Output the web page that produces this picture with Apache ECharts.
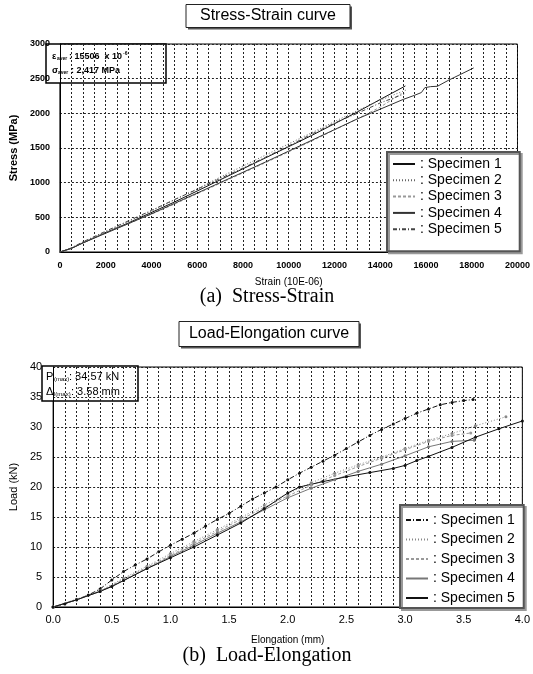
<!DOCTYPE html>
<html><head><meta charset="utf-8">
<script src="https://cdn.jsdelivr.net/npm/echarts@6/dist/echarts.min.js"></script>
<style>html,body{margin:0;padding:0;background:#fff}#c{width:533px;height:674px}</style>
</head><body><div id="c"></div><script>
// ---------- (a) Stress-Strain data: [strain (10E-06), stress (MPa)] ----------
const specimenNames = ['Specimen 1','Specimen 2','Specimen 3','Specimen 4','Specimen 5'];
const ssSpecimen1 = [[0,0],[500,55],[1000,130],[2000,280],[3000,420],[4000,570],[5000,720],[6000,880],[7000,1040],[8000,1200],[9000,1360],[10000,1520],[11000,1680],[12000,1850],[13000,2020],[14000,2200],[15100,2395]];
const ssSpecimen2 = [[0,0],[500,60],[1000,140],[2000,290],[3000,440],[4000,590],[5000,750],[6000,910],[7000,1080],[8000,1240],[9000,1400],[10000,1560],[11000,1720],[12000,1880],[13000,2040],[14000,2190],[15160,2340]];
const ssSpecimen3 = [[0,0],[500,50],[1000,135],[2000,275],[3000,410],[4000,545],[5000,690],[6000,840],[7000,990],[8000,1140],[9000,1290],[10000,1445],[11000,1600],[12000,1760],[13000,1920],[14000,2090],[14930,2285]];
const ssSpecimen4 = [[0,0],[500,50],[1000,130],[2000,270],[3000,410],[4000,550],[5000,700],[6000,850],[7000,1000],[8000,1150],[9000,1300],[10000,1455],[11000,1610],[12000,1765],[13000,1920],[14000,2060],[15000,2200],[15500,2260],[15800,2300],[15950,2370],[16200,2385],[16500,2390],[17000,2480],[17500,2560],[18085,2655]];
const ssSpecimen5 = [[0,0],[500,58],[1000,145],[2000,300],[3000,450],[4000,600],[5000,755],[6000,905],[7000,1060],[8000,1210],[9000,1370],[10000,1530],[11000,1700],[12000,1860],[13000,2000],[14000,2150],[15050,2280]];
const strainAxis = {min:0, max:20000, gridStep:500, labelStep:2000};
const stressAxis = {min:0, max:3000, gridStep:500};

// ---------- (b) Load-Elongation data: [elongation (mm), load (kN)] ----------
const leSpecimen1 = [[0,0],[0.1,0.5],[0.2,1.2],[0.3,2.0],[0.4,3.0],[0.5,4.5],[0.6,5.9],[0.7,7.0],[0.8,8.0],[0.9,9.2],[1.0,10.3],[1.1,11.3],[1.2,12.3],[1.3,13.5],[1.4,14.6],[1.5,15.6],[1.6,16.8],[1.7,18.0],[1.8,19.0],[1.9,20.0],[2.0,21.2],[2.1,22.3],[2.2,23.3],[2.3,24.3],[2.4,25.3],[2.5,26.4],[2.6,27.5],[2.7,28.6],[2.8,29.6],[2.9,30.5],[3.0,31.4],[3.1,32.3],[3.2,33.0],[3.3,33.7],[3.4,34.1],[3.5,34.4],[3.58,34.57]];
const leSpecimen2 = [[0,0],[0.2,1.3],[0.4,2.7],[0.6,4.8],[0.8,6.8],[1.0,8.9],[1.2,10.9],[1.4,12.9],[1.6,14.9],[1.8,17.0],[2.0,18.9],[2.2,20.7],[2.4,22.3],[2.6,23.7],[2.8,25.0],[3.0,26.4],[3.2,27.8],[3.4,28.9],[3.6,30.2],[3.86,31.7]];
const leSpecimen3 = [[0,0],[0.2,1.2],[0.4,2.6],[0.6,4.6],[0.8,6.6],[1.0,8.6],[1.2,10.6],[1.4,12.6],[1.6,14.6],[1.8,16.6],[2.0,18.5],[2.2,20.3],[2.4,21.9],[2.6,23.4],[2.8,24.8],[3.0,26.2],[3.2,27.6],[3.4,28.6],[3.56,29.0]];
const leSpecimen4 = [[0,0],[0.2,1.2],[0.4,2.6],[0.6,4.4],[0.8,6.4],[1.0,8.4],[1.2,10.3],[1.4,12.3],[1.6,14.2],[1.8,16.2],[2.0,18.2],[2.2,19.8],[2.4,21.2],[2.6,22.6],[2.8,23.8],[3.0,25.2],[3.2,26.7],[3.4,27.6],[3.59,27.8]];
const leSpecimen5 = [[0,0],[0.2,1.2],[0.4,2.6],[0.5,3.4],[0.6,4.4],[0.8,6.4],[1.0,8.2],[1.2,10.0],[1.4,12.0],[1.6,14.0],[1.8,16.4],[2.0,19.0],[2.1,20.0],[2.3,20.9],[2.5,21.7],[2.7,22.4],[2.9,23.1],[3.0,23.6],[3.1,24.4],[3.2,25.1],[3.4,26.6],[3.6,28.3],[3.8,29.7],[4.0,31.0]];
const elongAxis = {min:0, max:4, gridStep:0.1, labelStep:0.5};
const loadAxis = {min:0, max:40, gridStep:5};

const ssData = [ssSpecimen1, ssSpecimen2, ssSpecimen3, ssSpecimen4, ssSpecimen5];
const leData = [leSpecimen1, leSpecimen2, leSpecimen3, leSpecimen4, leSpecimen5];

const ssStyles = [
  {color:'#111', type:'solid'},
  {color:'#666', type:[1,2]},
  {color:'#999', type:[3,2]},
  {color:'#333', type:'solid'},
  {color:'#444', type:[4,2,1,2]}
];
const leStyles = [
  {color:'#111', type:[5,2,1,2]},
  {color:'#888', type:[1,2]},
  {color:'#999', type:[3,2]},
  {color:'#777', type:'solid'},
  {color:'#111', type:'solid'}
];

const gridLine = {show:true, lineStyle:{color:'#222', width:1, type:[2,2]}};
const FONT = '"Liberation Sans", Arial, sans-serif';
function onStep(v, step){ const r = v/step; return Math.abs(r - Math.round(r)) < 1e-6; }

const series = [];
ssData.forEach((d,i)=>{
  series.push({name:specimenNames[i], type:'line', xAxisIndex:0, yAxisIndex:0, data:d,
    showSymbol:false, symbol:'none', lineStyle:{color:ssStyles[i].color, type:ssStyles[i].type, width:1},
    itemStyle:{color:ssStyles[i].color}, silent:true, animation:false});
});
leData.forEach((d,i)=>{
  series.push({name:specimenNames[i]+' b', type:'line', xAxisIndex:1, yAxisIndex:1, data:d,
    symbol:'circle', symbolSize:3, showSymbol:true, lineStyle:{color:leStyles[i].color, type:leStyles[i].type, width:1},
    itemStyle:{color:leStyles[i].color}, silent:true, animation:false});
});

function titleBox(cx, cy, w, h, text){
  return {type:'group', children:[
    {type:'rect', shape:{x:cx-w/2+2, y:cy-h/2+2, width:w, height:h}, style:{fill:'#555'}},
    {type:'rect', shape:{x:cx-w/2, y:cy-h/2, width:w, height:h}, style:{fill:'#fff', stroke:'#222', lineWidth:1}},
    {type:'text', x:cx, y:cy, style:{text:text, fill:'#000', font:'16px ' + FONT, align:'center', verticalAlign:'middle'}}
  ]};
}
function txt(x, y, s, font){
  return {type:'text', x:x, y:y, style:{text:s, fill:'#000', font:font, verticalAlign:'middle'}};
}

const chart = echarts.init(document.getElementById('c'), null, {renderer:'canvas'});
chart.setOption({
  backgroundColor:'#fff',
  animation:false,
  grid:[
    {left:48, right:12, top:44, height:208, show:true, borderColor:'#000', borderWidth:1, backgroundColor:'#fff'},
    {left:43, right:9, top:367, height:240, show:true, borderColor:'#000', borderWidth:1, backgroundColor:'#fff'}
  ],
  xAxis:[
    {gridIndex:0, type:'value', min:strainAxis.min, max:strainAxis.max, interval:strainAxis.gridStep,
     name:'Strain (10E-06)', nameLocation:'middle', nameGap:25,
     nameTextStyle:{fontSize:10, color:'#000', fontFamily:FONT},
     axisLine:{show:true, lineStyle:{color:'#000'}}, axisTick:{show:false},
     axisLabel:{fontSize:9, fontWeight:'bold', color:'#000', margin:9, fontFamily:FONT, showMinLabel:true, showMaxLabel:true,
       formatter:v=> onStep(v, strainAxis.labelStep) ? String(v) : ''},
     splitLine:gridLine},
    {gridIndex:1, type:'value', min:elongAxis.min, max:elongAxis.max, interval:elongAxis.gridStep,
     name:'Elongation (mm)', nameLocation:'middle', nameGap:28,
     nameTextStyle:{fontSize:10, color:'#000', fontFamily:FONT},
     axisLine:{show:true, lineStyle:{color:'#000'}}, axisTick:{show:false},
     axisLabel:{fontSize:11, color:'#000', margin:7, fontFamily:FONT, showMinLabel:true, showMaxLabel:true,
       formatter:v=> onStep(v, elongAxis.labelStep) ? v.toFixed(1) : ''},
     splitLine:gridLine}
  ],
  yAxis:[
    {gridIndex:0, type:'value', min:stressAxis.min, max:stressAxis.max, interval:stressAxis.gridStep,
     name:'Stress (MPa)', nameLocation:'middle', nameGap:33,
     nameTextStyle:{fontSize:11, fontWeight:'bold', color:'#000', fontFamily:FONT},
     axisLine:{show:true, lineStyle:{color:'#000'}}, axisTick:{show:false},
     axisLabel:{fontSize:9, fontWeight:'bold', color:'#000', margin:10, fontFamily:FONT, formatter:v=>String(v)},
     splitLine:gridLine},
    {gridIndex:1, type:'value', min:loadAxis.min, max:loadAxis.max, interval:loadAxis.gridStep,
     name:'Load (kN)', nameLocation:'middle', nameGap:29,
     nameTextStyle:{fontSize:11, color:'#000', fontFamily:FONT},
     axisLine:{show:true, lineStyle:{color:'#000'}}, axisTick:{show:false},
     axisLabel:{fontSize:11, color:'#000', margin:11, fontFamily:FONT},
     splitLine:gridLine}
  ],
  legend:[
    {data:specimenNames, orient:'vertical', left:387, top:152, itemWidth:22, itemHeight:10, itemGap:2.3,
     padding:[5,18,15,5], backgroundColor:'#fff', borderColor:'#555', borderWidth:2,
     shadowColor:'#999', shadowOffsetX:2, shadowOffsetY:2, shadowBlur:0,
     itemStyle:{opacity:0}, selectedMode:false, formatter:n=>': '+n,
     textStyle:{fontSize:14, color:'#000', fontFamily:FONT}},
    {data:specimenNames.map(n=>n+' b'), orient:'vertical', left:400, top:505, itemWidth:22, itemHeight:10, itemGap:5.5,
     padding:[8,9,3,5], backgroundColor:'#fff', borderColor:'#555', borderWidth:2,
     shadowColor:'#999', shadowOffsetX:2, shadowOffsetY:2, shadowBlur:0,
     itemStyle:{opacity:0}, selectedMode:false, formatter:n=>': '+n.replace(/ b$/,''),
     textStyle:{fontSize:14, color:'#000', fontFamily:FONT}}
  ],
  graphic:[
    titleBox(268, 16, 164, 23, 'Stress-Strain curve'),
    titleBox(269, 334, 180, 25, 'Load-Elongation curve'),
    {type:'rect', shape:{x:46, y:44, width:120, height:39}, style:{fill:'#fff', stroke:'#000', lineWidth:1.5}},
    txt(52, 57, 'ε', 'bold 9px ' + FONT),
    txt(57, 59, 'aver', 'bold 5px ' + FONT),
    txt(69, 57, ': 15506  x 10', 'bold 9px ' + FONT),
    txt(123, 54, '-6', 'bold 5px ' + FONT),
    txt(52, 71, 'σ', 'bold 9px ' + FONT),
    txt(58, 73, 'aver', 'bold 5px ' + FONT),
    txt(71, 71, ': 2,417 MPa', 'bold 9px ' + FONT),
    {type:'rect', shape:{x:42, y:366, width:96, height:35}, style:{fill:'#fff', stroke:'#000', lineWidth:1.5}},
    txt(46, 377, 'P', '11px ' + FONT),
    txt(54, 379, '(max)', '6px ' + FONT),
    txt(69, 377, ': 34.57 kN', '11px ' + FONT),
    txt(46, 392, 'Δ', '11px ' + FONT),
    txt(54, 394, 'l(max)', '6px ' + FONT),
    txt(71, 392, ': 3.58 mm', '11px ' + FONT),
    {type:'text', x:267, y:297, style:{text:'(a)  Stress-Strain', font:'20px "Liberation Serif", "Times New Roman", serif', fill:'#000', align:'center', verticalAlign:'middle'}},
    {type:'text', x:267, y:656, style:{text:'(b)  Load-Elongation', font:'20px "Liberation Serif", "Times New Roman", serif', fill:'#000', align:'center', verticalAlign:'middle'}}
  ],
  series:series
});
</script></body></html>
